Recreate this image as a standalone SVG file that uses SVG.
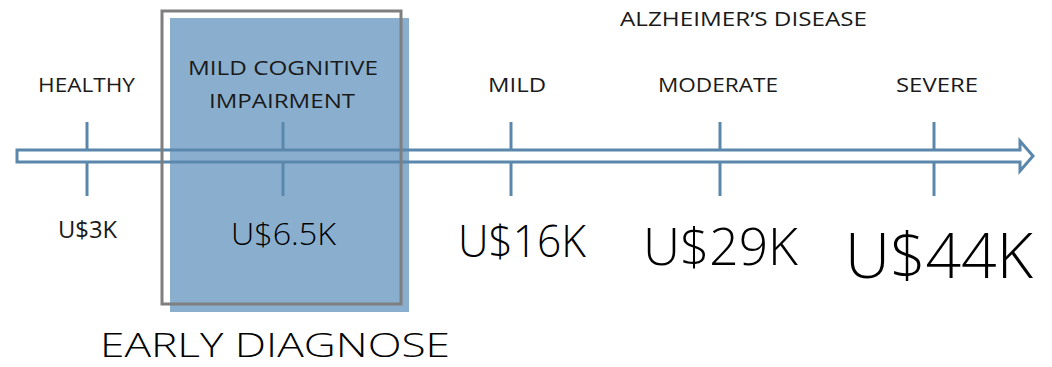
<svg xmlns="http://www.w3.org/2000/svg" width="1052" height="367" viewBox="0 0 1052 367">
<style>
.t{font-family:"Open Sans","Liberation Sans",sans-serif;font-weight:300;fill:#000000}
.s{font-family:"Open Sans","Liberation Sans",sans-serif;font-weight:400;fill:#1a1a1a}
.tick{stroke:#5b87ad;stroke-width:3;fill:none}
.ax{stroke:#5b87ad;stroke-width:3}
</style>
<rect width="1052" height="367" fill="#ffffff"/>
<g id="connectors">
  <line class="tick" x1="87" y1="122" x2="87" y2="196"/>
  <line class="tick" x1="511" y1="122" x2="511" y2="196"/>
  <line class="tick" x1="720" y1="122" x2="720" y2="196"/>
  <line class="tick" x1="934" y1="122" x2="934" y2="196"/>
  <path id="axis" class="ax" fill="#ffffff" d="M17,150 H1020 V141 L1033,156 L1020,171 V162 H17 Z"/>
</g>
<g id="mci-box">
  <rect x="170" y="18" width="239" height="294" fill="#8aafce"/>
  <path class="ax" fill="none" d="M170,150 H409 M170,162 H409"/>
  <line class="tick" x1="283" y1="122" x2="283" y2="150"/>
  <line class="tick" x1="283" y1="162" x2="283" y2="196"/>
  <rect x="162" y="11" width="239" height="293" fill="none" stroke="#7f7f7f" stroke-width="3"/>
</g>
<g id="healthy">
  <text class="s" x="38" y="92" font-size="20" textLength="97" lengthAdjust="spacingAndGlyphs">HEALTHY</text>
  <text class="s" x="58" y="238" font-size="23" textLength="59" lengthAdjust="spacingAndGlyphs">U$3K</text>
</g>
<g id="mci">
  <text class="s" x="188" y="75" font-size="20" textLength="190" lengthAdjust="spacingAndGlyphs">MILD COGNITIVE</text>
  <text class="s" x="209" y="108" font-size="20" textLength="146" lengthAdjust="spacingAndGlyphs">IMPAIRMENT</text>
  <text class="t" x="231" y="245" font-size="32" textLength="105" lengthAdjust="spacingAndGlyphs">U$6.5K</text>
</g>
<g id="alzheimers">
  <text class="s" x="620" y="26" font-size="20" textLength="247" lengthAdjust="spacingAndGlyphs">ALZHEIMER’S DISEASE</text>
</g>
<g id="mild">
  <text class="s" x="488" y="92" font-size="20" textLength="58" lengthAdjust="spacingAndGlyphs">MILD</text>
  <text class="t" x="458" y="257" font-size="44" textLength="128" lengthAdjust="spacingAndGlyphs">U$16K</text>
</g>
<g id="moderate">
  <text class="s" x="658" y="92" font-size="20" textLength="120" lengthAdjust="spacingAndGlyphs">MODERATE</text>
  <text class="t" x="643" y="265" font-size="51" textLength="155" lengthAdjust="spacingAndGlyphs">U$29K</text>
</g>
<g id="severe">
  <text class="s" x="896" y="92" font-size="20" textLength="82" lengthAdjust="spacingAndGlyphs">SEVERE</text>
  <text class="t" x="845" y="278" font-size="62" textLength="188" lengthAdjust="spacingAndGlyphs">U$44K</text>
</g>
<g id="early-diagnose">
  <text class="t" x="100" y="357" font-size="33" textLength="350" lengthAdjust="spacingAndGlyphs" fill="#222222">EARLY DIAGNOSE</text>
</g>
</svg>
